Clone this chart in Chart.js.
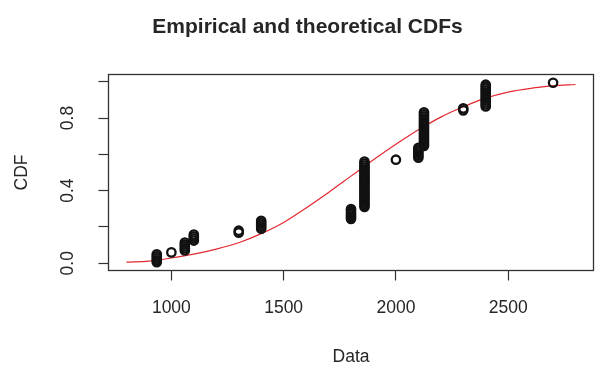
<!DOCTYPE html>
<html>
<head>
<meta charset="utf-8">
<script src="https://cdn.jsdelivr.net/npm/chart.js@4.4.1/dist/chart.umd.min.js"></script>
<style>
  html, body { margin: 0; padding: 0; background: #fff; overflow: hidden; }
  canvas { display: block; }
</style>
</head>
<body>
<canvas id="cdf" width="600" height="372" style="width:600px;height:372px"></canvas>
<script>
// Observed sample: distinct values and how many times each one occurs
const sampleValues = [935, 1000, 1060, 1100, 1300, 1400, 1800, 1860, 2000, 2100, 2125, 2300, 2400, 2700];
const sampleCounts = [5, 1, 5, 4, 2, 5, 6, 24, 1, 6, 18, 2, 12, 1];

// Fitted (theoretical) CDF along the histogram range
const fitX   = [800, 900, 1000, 1100, 1200, 1300, 1400, 1500, 1600, 1700, 1800,
                1900, 2000, 2100, 2200, 2300, 2400, 2500, 2600, 2700, 2800];
const fitCDF = [0.006, 0.012, 0.029, 0.050, 0.078, 0.113, 0.163, 0.225, 0.305, 0.390, 0.480,
                0.570, 0.655, 0.735, 0.805, 0.862, 0.910, 0.943, 0.964, 0.977, 0.985];

// Axis ticks and their labels
const xTicks = [1000, 1500, 2000, 2500];
const yTicks = [0, 0.2, 0.4, 0.6, 0.8, 1.0];
const yTickLabels = ['0.0', '', '0.4', '', '0.8', ''];

// Empirical CDF plotting positions (i - 0.5) / n, one point per observation
const n = sampleCounts.reduce((a, b) => a + b, 0);
const ecdfPoints = [];
let rank = 0;
sampleValues.forEach((v, k) => {
  for (let j = 0; j < sampleCounts[k]; j++) {
    rank++;
    ecdfPoints.push({ x: v, y: (rank - 0.5) / n });
  }
});
const fitPoints = fitX.map((x, i) => ({ x, y: fitCDF[i] }));

const INK = '#262626';
const FONT = 'Liberation Sans, Arial, Helvetica, sans-serif';

// Box around the plotting region
const plotBox = {
  id: 'plotBox',
  afterDraw(chart) {
    const { ctx, chartArea: a } = chart;
    ctx.save();
    ctx.strokeStyle = '#333';
    ctx.lineWidth = 1.3;
    ctx.strokeRect(a.left, a.top, a.right - a.left, a.bottom - a.top);
    ctx.restore();
  }
};

new Chart(document.getElementById('cdf'), {
  type: 'scatter',
  data: {
    datasets: [
      {
        label: 'Empirical',
        data: ecdfPoints,
        showLine: false,
        pointStyle: 'circle',
        pointRadius: 4.2,
        pointBorderWidth: 2.3,
        pointBorderColor: '#111',
        pointBackgroundColor: 'rgba(0,0,0,0)',
        clip: false,
        order: 1
      },
      {
        label: 'Theoretical',
        data: fitPoints,
        showLine: true,
        pointRadius: 0,
        borderColor: 'rgb(228,40,48)',
        borderWidth: 1.2,
        cubicInterpolationMode: 'monotone',
        order: 2
      }
    ]
  },
  options: {
    responsive: false,
    animation: false,
    devicePixelRatio: 1,
    layout: { padding: { left: 18, right: 3, top: 0, bottom: 0 } },
    plugins: {
      legend: { display: false },
      tooltip: { enabled: false },
      title: {
        display: true,
        text: 'Empirical and theoretical CDFs',
        color: INK,
        font: { family: FONT, size: 21, weight: 'bold', lineHeight: 1.2 },
        padding: { top: 14.4, bottom: 34.9 }
      }
    },
    scales: {
      x: {
        type: 'linear',
        min: 720,
        max: 2880,
        afterBuildTicks(scale) { scale.ticks = xTicks.map(v => ({ value: v })); },
        afterFit(scale) { scale.height = 101.5; },
        border: { display: false },
        grid: { drawOnChartArea: false, drawTicks: true, tickLength: 10, tickColor: '#333', tickWidth: 1.2 },
        ticks: {
          autoSkip: false,
          maxRotation: 0,
          padding: 17,
          color: INK,
          font: { family: FONT, size: 17.5 },
          callback: v => String(v)
        },
        title: {
          display: true,
          text: 'Data',
          color: INK,
          font: { family: FONT, size: 17.5, lineHeight: 1.2 },
          padding: { top: 0, bottom: 4.5 }
        }
      },
      y: {
        type: 'linear',
        min: -0.04,
        max: 1.04,
        afterBuildTicks(scale) { scale.ticks = yTicks.map(v => ({ value: v })); },
        afterFit(scale) { scale.width = 90.5; },
        border: { display: false },
        grid: { drawOnChartArea: false, drawTicks: true, tickLength: 10, tickColor: '#333', tickWidth: 1.2 },
        ticks: {
          autoSkip: false,
          minRotation: 90,
          maxRotation: 90,
          crossAlign: 'center',
          padding: 17.8,
          color: INK,
          font: { family: FONT, size: 17.5 },
          callback: (v) => yTickLabels[yTicks.indexOf(v)] ?? ''
        },
        title: {
          display: true,
          text: 'CDF',
          color: INK,
          font: { family: FONT, size: 17.5, lineHeight: 1.2 },
          padding: { top: -6.5, bottom: 0 }
        }
      }
    }
  },
  plugins: [plotBox]
});
</script>
</body>
</html>
